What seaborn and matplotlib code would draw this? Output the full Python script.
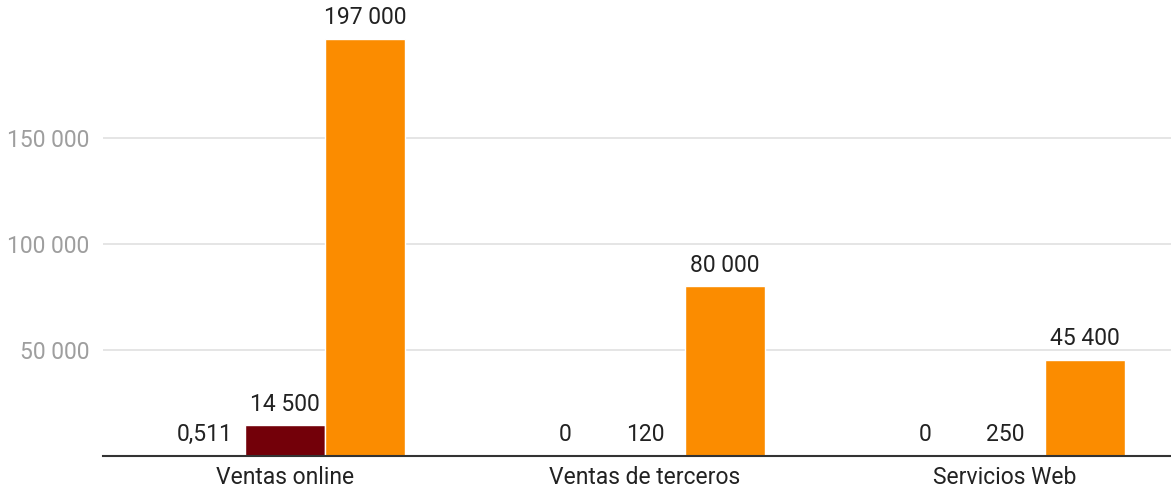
import pandas as pd
import matplotlib.pyplot as plt
import seaborn as sns

categories = ["Ventas online", "Ventas de terceros", "Servicios Web"]
series_names = ["Serie 1", "Serie 2", "Serie 3"]
serie_1 = [0.511, 0, 0]
serie_2 = [14500, 120, 250]
serie_3 = [197000, 80000, 45400]
yticks = [50000, 100000, 150000]

colors = {"Serie 1": "#3366cc", "Serie 2": "#730009", "Serie 3": "#fb8c00"}


def fmt(v):
    if float(v).is_integer():
        return f"{int(v):,}".replace(",", " ")
    return f"{v:g}".replace(".", ",")


rows = []
for name, vals in zip(series_names, [serie_1, serie_2, serie_3]):
    for cat, v in zip(categories, vals):
        rows.append({"categoria": cat, "serie": name, "valor": v})
df = pd.DataFrame(rows)

sns.set_theme(style="white")
plt.rcParams['font.family'] = ['Roboto', 'DejaVu Sans']

fig = plt.figure(figsize=(11.71, 4.9), dpi=100)
ax = fig.add_axes([103 / 1171, 34 / 490, 1 - 103 / 1171, 456 / 490])

sns.barplot(data=df, x="categoria", y="valor", hue="serie", palette=colors,
            width=0.667, saturation=1, ax=ax, legend=False)

for cont in ax.containers:
    labels = [fmt(b.get_height()) for b in cont]
    ax.bar_label(cont, labels=labels, padding=7, fontsize=16.5, color="#222222")

ax.set_ylim(0, 215200)
ax.set_xlim(-0.506, 2.461)
ax.set_yticks(yticks)
ax.set_yticklabels([fmt(v) for v in yticks])
ax.yaxis.grid(True, color="#e0e0e0", linewidth=1.2)
ax.set_axisbelow(True)
ax.set_xlabel("")
ax.set_ylabel("")
ax.tick_params(axis="y", length=0, pad=10, labelsize=16.5, labelcolor="#9e9e9e")
ax.tick_params(axis="x", length=0, pad=7, labelsize=16.5, labelcolor="#222222")

for side in ["top", "right", "left"]:
    ax.spines[side].set_visible(False)
ax.spines["bottom"].set_color("#333333")
ax.spines["bottom"].set_linewidth(1.5)

fig.savefig("out.png", dpi=100)
